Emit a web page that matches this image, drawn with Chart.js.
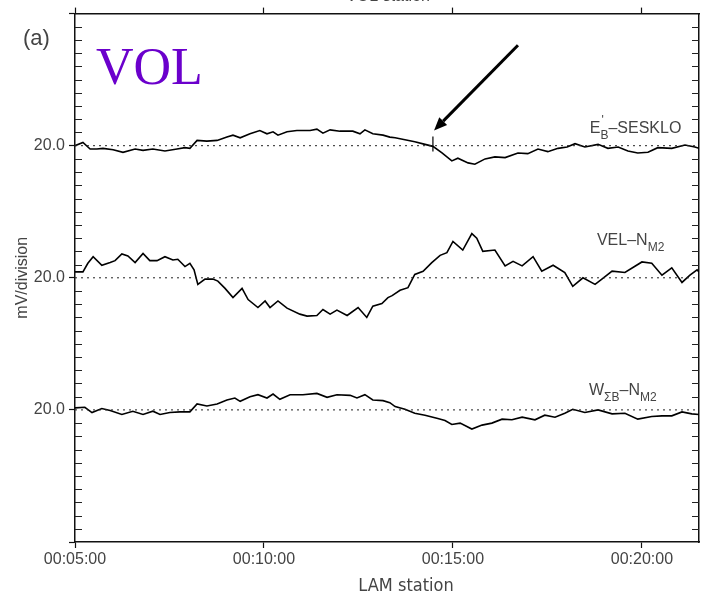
<!DOCTYPE html>
<html>
<head>
<meta charset="utf-8">
<script src="https://cdn.jsdelivr.net/npm/chart.js@4.4.1/dist/chart.umd.min.js"></script>
<style>
  body { margin: 0; background: #fff; }
  canvas { display: block; }
</style>
</head>
<body>
<canvas id="chart" width="704" height="594"></canvas>
<script>
// time axis in minutes after 00:00:00, traces in divisions (20.0 mV/division)
const xMin = 5
const xMax = 21.51
const xTicks = [5, 10, 15, 20]
const yLabelTicks = [10, 20, 30]
const yLabelText = '20.0'

// E'B - SESKLO, baseline at 30 divisions
const sesTime = [5.00, 5.21, 5.40, 5.58, 5.74, 6.01, 6.27, 6.59, 6.80, 7.06, 7.38, 7.70, 7.91, 8.04, 8.23, 8.49, 8.76, 9.02, 9.18, 9.37,
  9.63, 9.89, 10.08, 10.24, 10.37, 10.61, 10.87, 11.22, 11.40, 11.56, 11.75, 12.01, 12.35, 12.54, 12.67, 12.88, 13.15, 13.33,
  13.47, 13.73, 13.99, 14.26, 14.47, 14.71, 14.97, 15.13, 15.40, 15.58, 15.85, 16.11, 16.38, 16.72, 16.98, 17.25, 17.51, 17.78,
  18.02, 18.23, 18.49, 18.84, 19.10, 19.37, 19.63, 19.89, 20.16, 20.42, 20.79, 21.14, 21.40, 21.51]
const sesDiv = [0, 0.25, -0.25, -0.25, -0.2, -0.3, -0.5, -0.25, -0.35, -0.25, -0.4, -0.25, -0.15, -0.2, 0.4, 0.35, 0.4, 0.65, 0.8, 0.6,
  0.9, 1.15, 0.9, 1.05, 0.8, 1.05, 1.15, 1.15, 1.25, 0.95, 1.2, 1.1, 1.1, 0.9, 1.2, 0.9, 0.8, 0.65,
  0.6, 0.45, 0.3, 0.1, -0.05, -0.55, -1.15, -0.95, -1.3, -1.4, -1.0, -0.85, -0.9, -0.55, -0.6, -0.25, -0.45, -0.2,
  -0.1, 0.15, -0.1, 0.1, -0.2, -0.1, -0.4, -0.55, -0.5, -0.15, -0.2, 0.05, -0.1, -0.2]

// VEL - N M2, baseline at 20 divisions
const velTime = [5.00, 5.21, 5.34, 5.48, 5.71, 5.93, 6.06, 6.24, 6.40, 6.59, 6.80, 6.98, 7.17, 7.38, 7.59, 7.72, 7.91, 8.04, 8.15, 8.25,
  8.44, 8.65, 8.78, 8.97, 9.18, 9.42, 9.58, 9.84, 10.03, 10.16, 10.37, 10.61, 10.95, 11.14, 11.40, 11.56, 11.75, 11.93, 12.20, 12.49,
  12.72, 12.88, 13.12, 13.28, 13.39, 13.60, 13.81, 13.99, 14.21, 14.44, 14.66, 14.84, 15.00, 15.26, 15.50, 15.63, 15.79, 16.11, 16.38, 16.59,
  16.83, 17.12, 17.35, 17.65, 17.96, 18.17, 18.44, 18.76, 18.94, 19.21, 19.55, 20.00, 20.26, 20.53, 20.79, 21.06, 21.27, 21.46, 21.51]
const velDiv = [0.45, 0.45, 1.1, 1.6, 0.95, 1.15, 1.3, 1.8, 1.65, 1.15, 1.85, 1.3, 1.3, 1.6, 1.35, 1.4, 0.85, 1.1, 0.6, -0.5,
  -0.1, -0.1, -0.25, -0.8, -1.5, -0.8, -1.65, -2.25, -1.75, -2.25, -1.75, -2.3, -2.75, -2.9, -2.85, -2.4, -2.75, -2.45, -2.85, -2.25,
  -3.0, -2.15, -1.95, -1.5, -1.35, -0.95, -0.75, 0.25, 0.5, 1.15, 1.7, 1.9, 2.75, 2.1, 3.35, 3.0, 2.0, 2.1, 0.9, 1.25,
  0.9, 1.6, 0.5, 0.95, 0.4, -0.65, 0, -0.5, -0.1, 0.5, 0.4, 1.2, 1.1, 0.2, 0.75, -0.35, 0.2, 0.6, 0.45]

// W ΣB - N M2, baseline at 10 divisions
const wsbTime = [5.00, 5.26, 5.45, 5.71, 5.93, 6.24, 6.53, 6.80, 7.06, 7.25, 7.51, 7.78, 8.04, 8.23, 8.49, 8.76, 9.02, 9.23, 9.37, 9.63,
  9.84, 10.08, 10.24, 10.42, 10.69, 11.03, 11.40, 11.67, 11.93, 12.28, 12.46, 12.67, 12.88, 13.15, 13.33, 13.47, 13.73, 13.99, 14.26, 14.60,
  14.79, 14.97, 15.19, 15.50, 15.77, 16.03, 16.30, 16.56, 16.83, 17.17, 17.43, 17.70, 17.96, 18.17, 18.49, 18.84, 19.21, 19.55, 19.89, 20.26,
  20.53, 20.79, 21.06, 21.32, 21.51]
const wsbDiv = [0.15, 0.2, -0.2, 0.1, -0.05, -0.35, -0.1, -0.35, -0.1, -0.35, -0.2, -0.15, -0.15, 0.45, 0.3, 0.45, 0.75, 0.9, 0.65, 1.0,
  1.15, 0.9, 1.2, 0.8, 1.15, 1.15, 1.25, 0.95, 1.15, 1.1, 0.9, 1.15, 0.75, 0.7, 0.55, 0.25, 0.05, -0.25, -0.4, -0.65,
  -0.8, -1.1, -1.0, -1.45, -1.15, -1.0, -0.7, -0.75, -0.55, -0.75, -0.4, -0.55, -0.25, 0.05, -0.2, 0, -0.3, -0.25, -0.7, -0.5,
  -0.45, -0.45, -0.15, -0.3, -0.35]

const baselines = [30, 20, 10]

// vertical marker on the SESKLO trace and the arrow pointing at it
const markerTime = 14.47
const markerDiv = [0.7, -0.43]
const arrowFrom = [16.72, 37.6]
const arrowTo = [14.5, 31.16]

const family = "'Liberation Sans', Arial, sans-serif"
const textColor = '#444'

const trace = (times, divs, base) => times.map((t, i) => ({ x: t, y: base + divs[i] }))
const lineStyle = { borderColor: '#000', borderWidth: 1.6, pointRadius: 0, tension: 0, fill: false }
const zeroLine = base => ({
  data: [{ x: xMin, y: base }, { x: xMax, y: base }],
  borderColor: '#222', borderWidth: 1, borderDash: [2, 4], pointRadius: 0
})

function drawParts(ctx, x, y, parts) {
  // parts: normal text, subscripts and an optional prime over a subscript
  let cx = x
  parts.forEach(p => {
    ctx.font = (p.sub ? '12px ' : '16px ') + family
    const w = ctx.measureText(p.t).width
    ctx.fillText(p.t, cx, p.sub ? y + 6 : y)
    if (p.prime) {
      ctx.font = '12px ' + family
      ctx.fillText("'", cx + 1, y - 9)
    }
    cx += w
  })
}

const decorations = {
  id: 'decorations',
  afterDraw(chart) {
    const { ctx, chartArea: a, scales: { x, y } } = chart
    ctx.save()

    // inward minor ticks on left and right axes
    ctx.strokeStyle = '#222'
    ctx.lineWidth = 1.2
    y.ticks.forEach(t => {
      if (t.value % 10 === 0) return
      const py = Math.round(y.getPixelForValue(t.value)) + 0.5
      ctx.beginPath()
      ctx.moveTo(a.left, py)
      ctx.lineTo(a.left + 7, py)
      ctx.moveTo(a.right - 7, py)
      ctx.lineTo(a.right, py)
      ctx.stroke()
    })

    // arrow
    const x0 = x.getPixelForValue(arrowFrom[0]), y0 = y.getPixelForValue(arrowFrom[1])
    const x1 = x.getPixelForValue(arrowTo[0]), y1 = y.getPixelForValue(arrowTo[1])
    const ang = Math.atan2(y1 - y0, x1 - x0)
    const head = 13
    const bx = x1 - head * Math.cos(ang), by = y1 - head * Math.sin(ang)
    ctx.strokeStyle = '#000'
    ctx.fillStyle = '#000'
    ctx.lineWidth = 3
    ctx.beginPath()
    ctx.moveTo(x0, y0)
    ctx.lineTo(bx, by)
    ctx.stroke()
    ctx.beginPath()
    ctx.moveTo(x1, y1)
    ctx.lineTo(bx + 5.5 * Math.sin(ang), by - 5.5 * Math.cos(ang))
    ctx.lineTo(bx - 5.5 * Math.sin(ang), by + 5.5 * Math.cos(ang))
    ctx.closePath()
    ctx.fill()

    // trace names
    ctx.fillStyle = textColor
    ctx.textBaseline = 'alphabetic'
    ctx.textAlign = 'left'
    drawParts(ctx, x.getPixelForValue(18.62), y.getPixelForValue(30.98),
      [{ t: 'E' }, { t: 'B', sub: true, prime: true }, { t: '\u2013SESKLO' }])
    drawParts(ctx, x.getPixelForValue(18.81), y.getPixelForValue(22.5),
      [{ t: 'VEL\u2013N' }, { t: 'M2', sub: true }])
    drawParts(ctx, x.getPixelForValue(18.6), y.getPixelForValue(11.14),
      [{ t: 'W' }, { t: '\u03A3B', sub: true }, { t: '\u2013N' }, { t: 'M2', sub: true }])

    // panel tag, station name, axis titles
    ctx.font = '22px ' + family
    ctx.fillText('(a)', 23, 45)
    ctx.fillStyle = '#6B00CC'
    ctx.font = "52px 'Liberation Serif', 'Times New Roman', serif"
    ctx.fillText('VOL', 96, 84)
    ctx.fillStyle = textColor
    ctx.textAlign = 'center'
    ctx.font = '16px ' + family
    ctx.fillText('VOL station', 388, 1)
    ctx.font = "18px 'Liberation Sans Narrow', 'DejaVu Sans Condensed', " + family
    ctx.fillText('LAM station', 406, 591)
    ctx.restore()
  }
}

new Chart(document.getElementById('chart'), {
  type: 'line',
  data: {
    datasets: [
      ...baselines.map(zeroLine),
      { ...lineStyle, data: trace(sesTime, sesDiv, baselines[0]) },
      { ...lineStyle, data: trace(velTime, velDiv, baselines[1]) },
      { ...lineStyle, data: trace(wsbTime, wsbDiv, baselines[2]) },
      { ...lineStyle, borderWidth: 1.2, data: markerDiv.map(d => ({ x: markerTime, y: baselines[0] + d })) }
    ]
  },
  options: {
    responsive: false,
    animation: false,
    devicePixelRatio: 1,
    layout: { padding: 0 },
    plugins: { legend: { display: false }, tooltip: { enabled: false } },
    scales: {
      x: {
        type: 'linear', position: 'bottom', min: xMin, max: xMax,
        afterBuildTicks: s => { s.ticks = xTicks.map(v => ({ value: v })) },
        afterFit: s => { s.height = 52 },
        ticks: {
          autoSkip: false, maxRotation: 0, padding: 2, color: textColor,
          font: { size: 16, family },
          callback: v => '00:' + String(v).padStart(2, '0') + ':00'
        },
        grid: { drawOnChartArea: false, tickLength: 6, tickColor: '#111', tickWidth: 1.2 },
        border: { color: '#111', width: 1.5 }
      },
      xTop: {
        type: 'linear', position: 'top', min: xMin, max: xMax,
        afterBuildTicks: s => { s.ticks = xTicks.map(v => ({ value: v })) },
        afterFit: s => { s.height = 13 },
        ticks: { display: false },
        grid: { drawOnChartArea: false, tickLength: 6, tickColor: '#111', tickWidth: 1.2 },
        border: { color: '#111', width: 1.5 }
      },
      y: {
        type: 'linear', position: 'left', min: 0, max: 40,
        afterFit: s => { s.width = 75 },
        ticks: {
          stepSize: 1, maxTicksLimit: 100, autoSkip: false, padding: 4, color: textColor,
          font: { size: 16, family },
          callback: v => yLabelTicks.includes(v) ? yLabelText : ''
        },
        grid: {
          drawOnChartArea: false, tickLength: 6, tickWidth: 1.2,
          tickColor: c => (c.tick && c.tick.value % 10 === 0) ? '#111' : 'rgba(0,0,0,0)'
        },
        border: { color: '#111', width: 1.5 },
        title: {
          display: true, text: 'mV/division', color: textColor,
          font: { size: 16, family }, padding: { top: 13, bottom: 0 }
        }
      },
      yRight: {
        type: 'linear', position: 'right', min: 0, max: 40,
        afterFit: s => { s.width = 5 },
        ticks: { display: false },
        grid: { drawOnChartArea: false, drawTicks: false },
        border: { color: '#111', width: 1.5 }
      }
    }
  },
  plugins: [decorations]
})
</script>
</body>
</html>
